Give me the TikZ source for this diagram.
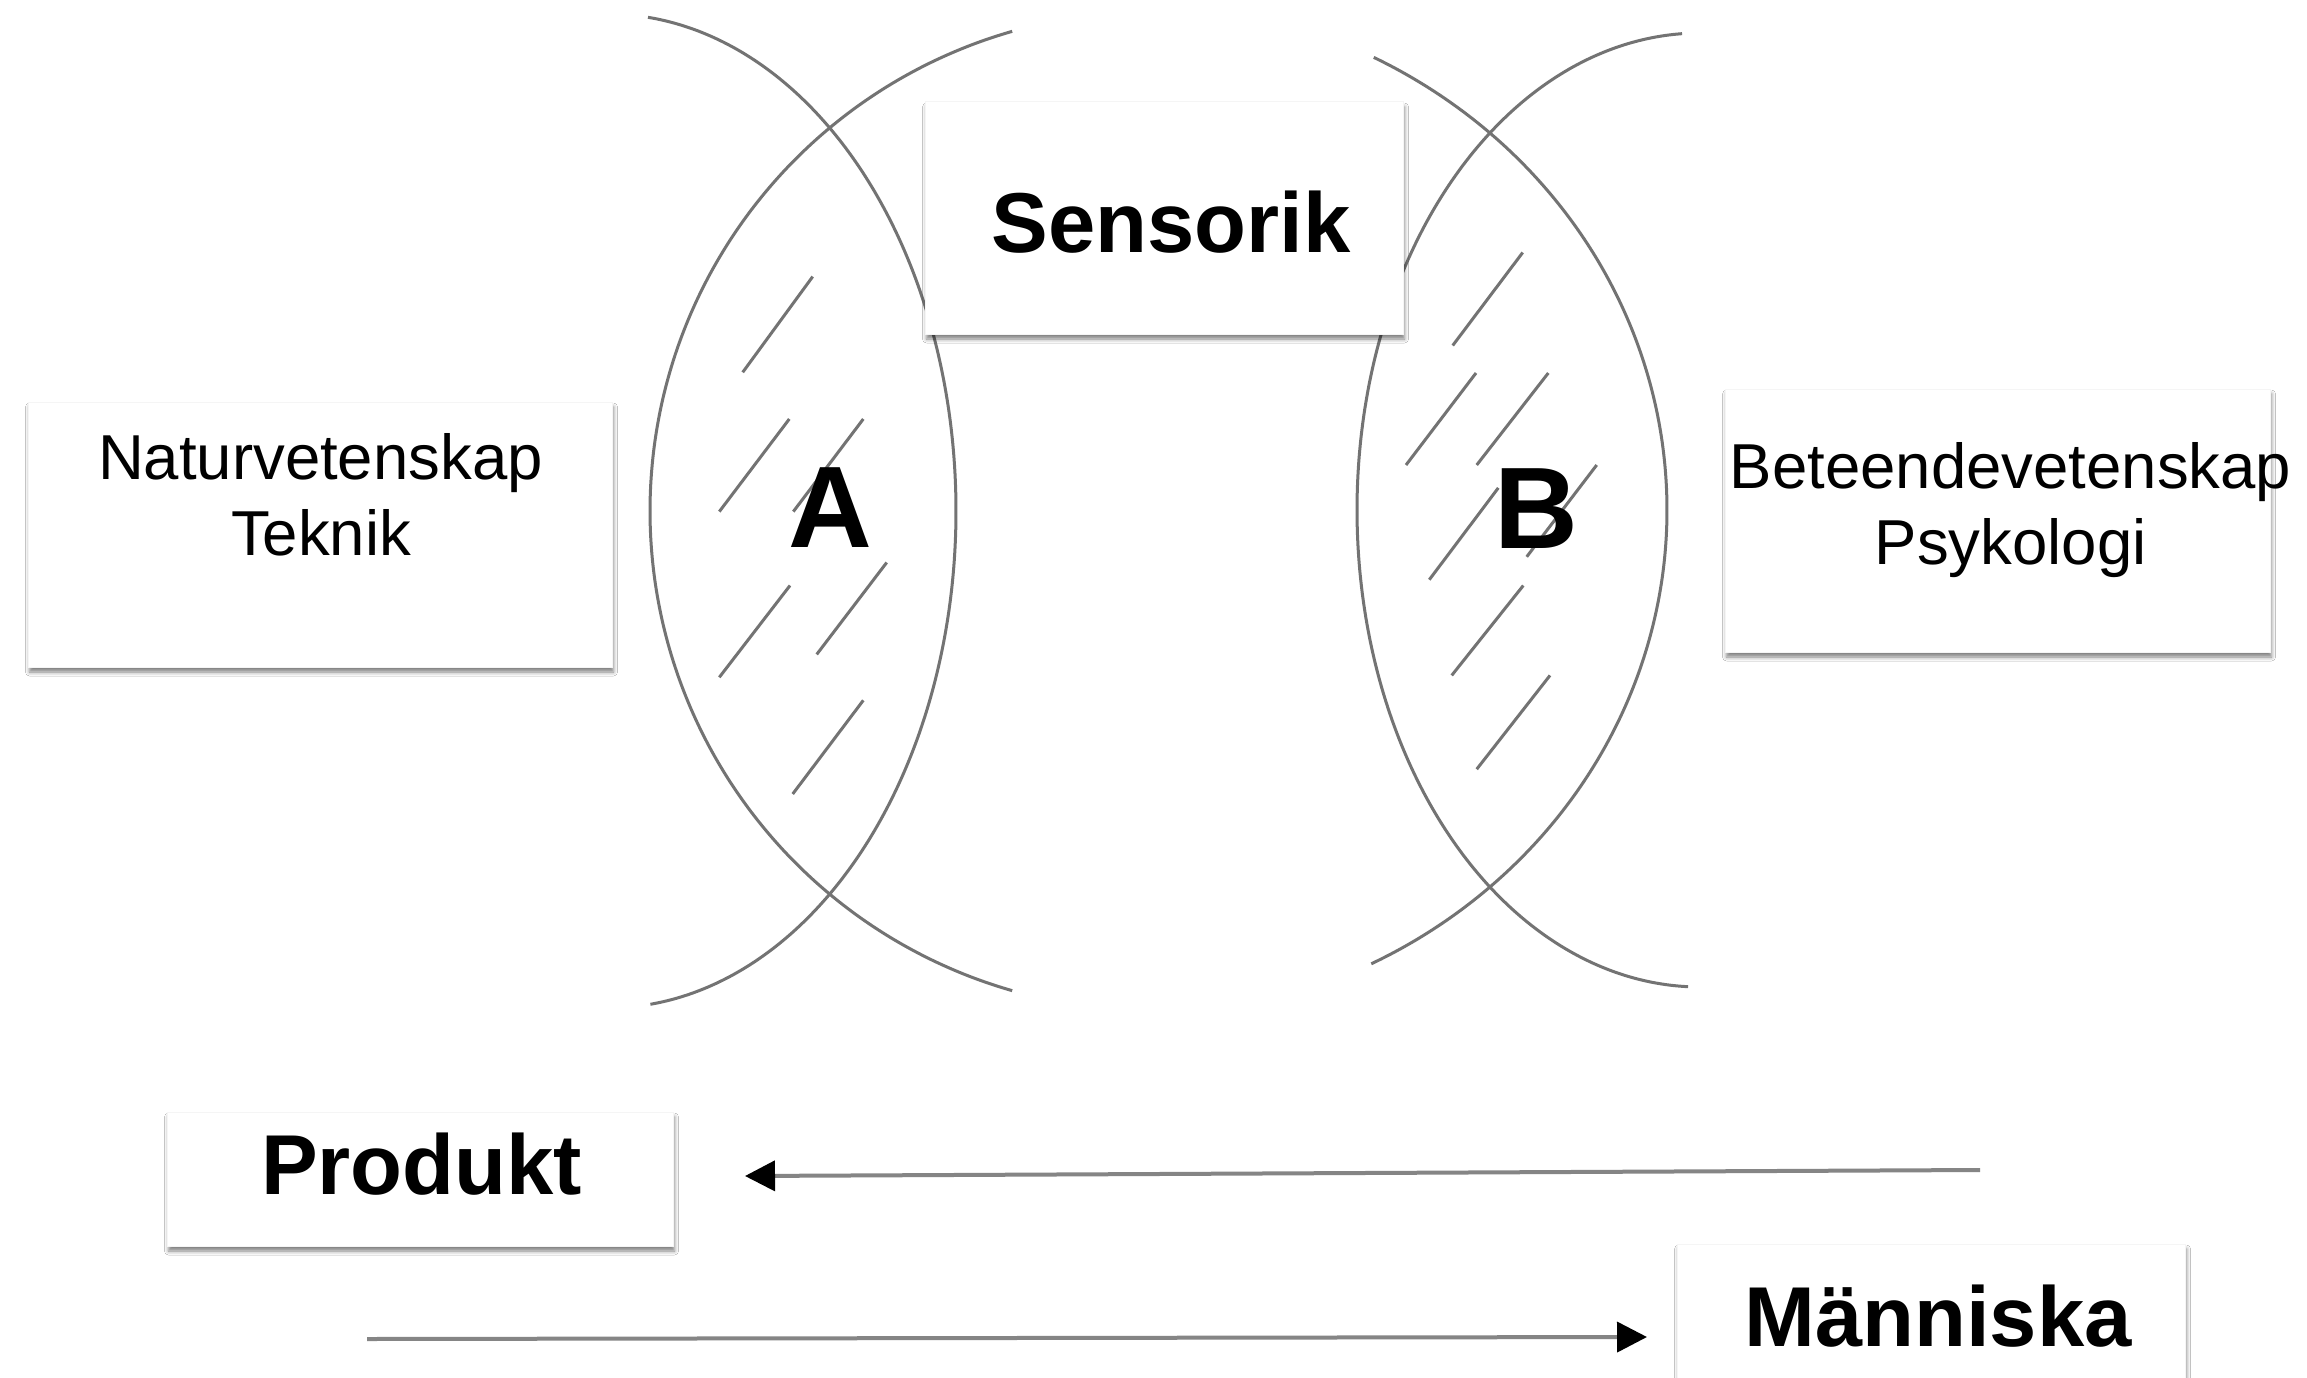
\documentclass[tikz,border=0pt]{standalone}
\usepackage{fontspec}
\setmainfont{Liberation Sans}
\usetikzlibrary{arrows.meta,shadows.blur}
\begin{document}
\begin{tikzpicture}[x=1pt,y=-1pt,
  arcline/.style={draw=black!55, line width=3pt},
  hatch/.style={draw=black!55, line width=3pt},
  box/.style={rectangle, fill=white, draw=black!4, line width=1pt, inner sep=0pt,
    blur shadow={shadow xshift=1.5pt, shadow yshift=-5pt, shadow blur radius=4pt, shadow opacity=50}},
  regtext/.style={inner sep=0pt, anchor=base, font=\fontsize{63.5}{76}\selectfont},
  boldtext/.style={inner sep=0pt, anchor=base, font=\fontsize{85}{100}\selectfont\bfseries},
  bigletter/.style={inner sep=0pt, anchor=base, font=\fontsize{116}{130}\selectfont\bfseries},
  flow/.style={draw=black!48, line width=4pt, -{Triangle[length=30pt,width=30pt,color=black]}}
]
\useasboundingbox (0,0) rectangle (2307,1378);
\clip (0,0) rectangle (2307,1378);
\fill[white] (0,0) rectangle (2307,1378);

% lens A
\draw[arcline] plot[domain=-83.4:83, samples=120, smooth] ({608+348*cos(\x)}, {511+497*sin(\x)});
\draw[arcline] plot[domain=106:254, samples=120, smooth] ({1150+500*cos(\x)}, {511+499*sin(\x)});
% lens B
\draw[arcline] plot[domain=92:267, samples=120, smooth] ({1700+343*cos(\x)}, {510+477*sin(\x)});
\draw[arcline] plot[domain=-63:63.3, samples=120, smooth] ({1130+537*cos(\x)}, {510+508*sin(\x)});

% hatching A
\draw[hatch] (812.7,276.6) -- (742.7,372.3);
\draw[hatch] (789.3,419) -- (719.3,511.6);
\draw[hatch] (863.3,419) -- (793.3,511.6);
\draw[hatch] (790,585.5) -- (719.3,677.3);
\draw[hatch] (886.7,562.5) -- (816.7,654.4);
\draw[hatch] (863.3,700.3) -- (792.7,794);
% hatching B
\draw[hatch] (1522.7,252.5) -- (1452.7,345.5);
\draw[hatch] (1476,373) -- (1406,465);
\draw[hatch] (1548.3,373) -- (1476.7,465);
\draw[hatch] (1498.3,487.9) -- (1429.3,579.7);
\draw[hatch] (1596.7,465) -- (1526.7,556.8);
\draw[hatch] (1523.3,585.5) -- (1451.7,675.4);
\draw[hatch] (1550,675.4) -- (1476.7,769.2);

% boxes
\node[box, minimum width=584pt, minimum height=265pt] (natbox) at (320,534.5) {};
\node[box, minimum width=478pt, minimum height=232pt] (sensbox) at (1164,218) {};
\node[box, minimum width=545pt, minimum height=263pt] (betbox) at (1997.5,520.5) {};
\node[box, minimum width=506pt, minimum height=134pt] (prodbox) at (420,1179) {};
\node[box, minimum width=508pt, minimum height=176pt] (mannbox) at (1931,1332) {};

% texts
\node[regtext] (nat1) at (320.4,479) {Naturvetenskap};
\node[regtext] (nat2) at (321,555) {Teknik};
\node[boldtext] (sens) at (1171,252) {Sensorik};
\node[regtext] (bet1) at (2010.6,488) {Beteendevetenskap};
\node[regtext] (bet2) at (2010.7,564) {Psykologi};
\node[boldtext] (prod) at (421.7,1194) {Produkt};
\node[boldtext] (mann) at (1938,1346) {Människa};
\node[bigletter] (la) at (830,547) {A};
\node[bigletter] (lb) at (1536,548) {B};

% arrows
\coordinate (p1s) at (1980,1170);
\coordinate (p1e) at (745,1176);
\coordinate (p2s) at (367,1339);
\coordinate (p2e) at (1647,1337);
\draw[flow] (p1s) -- (p1e);
\draw[flow] (p2s) -- (p2e);
\end{tikzpicture}
\end{document}
